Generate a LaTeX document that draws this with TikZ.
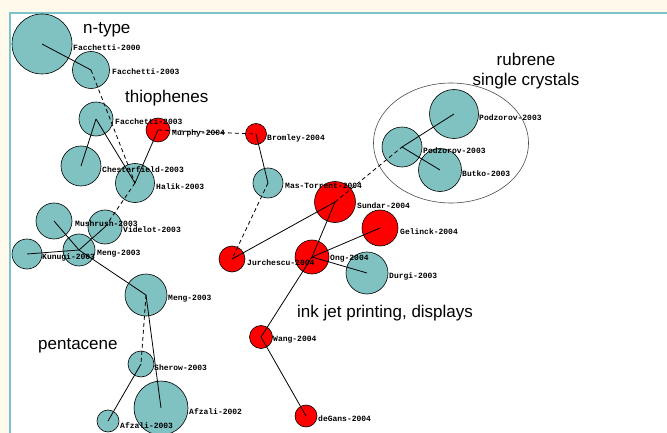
\documentclass[tikz,border=0pt]{standalone}
\usepackage{fontspec}
\usetikzlibrary{shapes.geometric}
\setmainfont{Liberation Sans}
\newfontfamily\lblfont{Liberation Mono}
\definecolor{cream}{HTML}{FFF9EC}
\definecolor{tealfill}{HTML}{80C2C2}
\definecolor{tealborder}{HTML}{7CC4C8}
\definecolor{redfill}{HTML}{FF0000}
\tikzset{
  tnode/.style={circle, draw=black, line width=0.6pt, fill=tealfill, inner sep=0pt},
  rnode/.style={circle, draw=black, line width=0.6pt, fill=redfill, inner sep=0pt},
  lbl/.style={anchor=west, inner sep=0pt, font=\lblfont\bfseries\fontsize{8}{8}\selectfont},
  topic/.style={anchor=base west, inner sep=0pt, font=\fontsize{17}{17}\selectfont},
  link/.style={draw=black, line width=0.8pt},
  dlink/.style={draw=black, line width=0.8pt, dash pattern=on 4pt off 3pt},
  groupring/.style={ellipse, draw=black!70, line width=0.6pt, inner sep=0pt},
}
\begin{document}
\begin{tikzpicture}[x=1pt,y=-1pt]
\useasboundingbox (0,0) rectangle (667,433);
\fill[cream] (0,0) rectangle (667,433);
\fill[white] (10,13) rectangle (667,433);
\draw[tealborder, line width=2.5pt] (10,433) -- (10,13) -- (667,13);

% rubrene ellipse
\node[groupring, minimum width=155pt, minimum height=120pt] (ell) at (451,143) {};

% circles
\node[tnode, minimum size=60pt] (f2000) at (42,44) {};
\node[tnode, minimum size=37pt] (f2003a) at (91,70) {};
\node[tnode, minimum size=34pt] (f2003b) at (96,119) {};
\node[rnode, minimum size=24pt] (murphy) at (158,130) {};
\node[tnode, minimum size=40pt] (chest) at (81,166) {};
\node[tnode, minimum size=39pt] (halik) at (135,183) {};
\node[tnode, minimum size=36pt] (mush) at (54,221) {};
\node[tnode, minimum size=34pt] (videlot) at (105,227) {};
\node[tnode, minimum size=32pt] (menga) at (79,250) {};
\node[tnode, minimum size=30pt] (kunugi) at (27,254) {};
\node[tnode, minimum size=42pt] (mengb) at (146,295) {};
\node[tnode, minimum size=26pt] (sherow) at (141,364) {};
\node[tnode, minimum size=54pt] (afz2002) at (161,408) {};
\node[tnode, minimum size=22pt] (afz2003) at (108,421) {};
\node[rnode, minimum size=21pt] (bromley) at (256,134) {};
\node[tnode, minimum size=30pt] (mas) at (268,183) {};
\node[rnode, minimum size=41pt] (sundar) at (335,202) {};
\node[rnode, minimum size=36pt] (gelinck) at (380,228) {};
\node[rnode, minimum size=26pt] (jurch) at (232,259) {};
\node[tnode, minimum size=42pt] (durgi) at (367,273) {};
\node[rnode, minimum size=34pt] (ong) at (312,257) {};
\node[rnode, minimum size=23pt] (wang) at (261,337) {};
\node[rnode, minimum size=22pt] (degans) at (306,416) {};
\node[tnode, minimum size=49pt] (podza) at (454,114) {};
\node[tnode, minimum size=40pt] (podzb) at (402,147) {};
\node[tnode, minimum size=43pt] (butko) at (440,170) {};

% edges
\draw[link] (f2000.center) -- (f2003a.center);
\draw[dlink] (f2003a.center) -- (halik.center);
\draw[link] (f2003b.center) -- (chest.center);
\draw[link] (f2003b.center) -- (halik.center);
\draw[link] (murphy.center) -- (halik.center);
\draw[dlink] (murphy.center) -- (bromley.center);
\draw[dlink] (halik.center) -- (videlot.center);
\draw[link] (mush.center) -- (menga.center);
\draw[link] (menga.center) -- (videlot.center);
\draw[link] (kunugi.center) -- (menga.center);
\draw[link] (menga.center) -- (mengb.center);
\draw[dlink] (mengb.center) -- (sherow.center);
\draw[link] (mengb.center) -- (afz2002.center);
\draw[link] (sherow.center) -- (afz2003.center);
\draw[link] (bromley.center) -- (mas.center);
\draw[dlink] (mas.center) -- (jurch.center);
\draw[dlink] (sundar.center) -- (podzb.center);
\draw[link] (podzb.center) -- (podza.center);
\draw[link] (podzb.center) -- (butko.center);
\draw[link] (jurch.center) -- (sundar.center);
\draw[link] (ong.center) -- (sundar.center);
\draw[link] (ong.center) -- (gelinck.center);
\draw[link] (ong.center) -- (durgi.center);
\draw[link] (ong.center) -- (wang.center);
\draw[link] (wang.center) -- (degans.center);

% labels
\node[lbl] (l1) at (73,48) {Facchetti-2000};
\node[lbl] (l2) at (112,72) {Facchetti-2003};
\node[lbl] (l3) at (115,122) {Facchetti-2003};
\node[lbl] (l4) at (172,133) {Murphy-2004};
\node[lbl] (l5) at (102,170) {Chesterfield-2003};
\node[lbl] (l6) at (156,187) {Halik-2003};
\node[lbl] (l7) at (75,224) {Mushrush-2003};
\node[lbl] (l8) at (123,230) {Videlot-2003};
\node[lbl] (l9) at (97,254) {Meng-2003};
\node[lbl] (l10) at (42,257) {Kunugi-2003};
\node[lbl] (l11) at (168,299) {Meng-2003};
\node[lbl] (l12) at (154,368) {Sherow-2003};
\node[lbl] (l13) at (189,412) {Afzali-2002};
\node[lbl] (l14) at (120,426) {Afzali-2003};
\node[lbl] (l15) at (267,138) {Bromley-2004};
\node[lbl] (l16) at (285,186) {Mas-Torrent-2004};
\node[lbl] (l17) at (357,206) {Sundar-2004};
\node[lbl] (l18) at (400,232) {Gelinck-2004};
\node[lbl] (l19) at (247,263) {Jurchescu-2004};
\node[lbl] (l20) at (330,259) {Ong-2004};
\node[lbl] (l21) at (389,276) {Durgi-2003};
\node[lbl] (l22) at (273,340) {Wang-2004};
\node[lbl] (l23) at (318,419) {deGans-2004};
\node[lbl] (l24) at (479,118) {Podzorov-2003};
\node[lbl] (l25) at (423,151) {Podzorov-2003};
\node[lbl] (l26) at (462,174) {Butko-2003};

% topic texts
\node[topic] (t1) at (83,34) {n-type};
\node[topic] (t2) at (125,103) {thiophenes};
\node[topic] (t3) at (38,349) {pentacene};
\node[topic] (t4) at (297,317) {ink jet printing, displays};
\node[topic, anchor=base] (t5) at (526,66) {rubrene};
\node[topic, anchor=base] (t6) at (526,86) {single crystals};
\end{tikzpicture}
\end{document}
